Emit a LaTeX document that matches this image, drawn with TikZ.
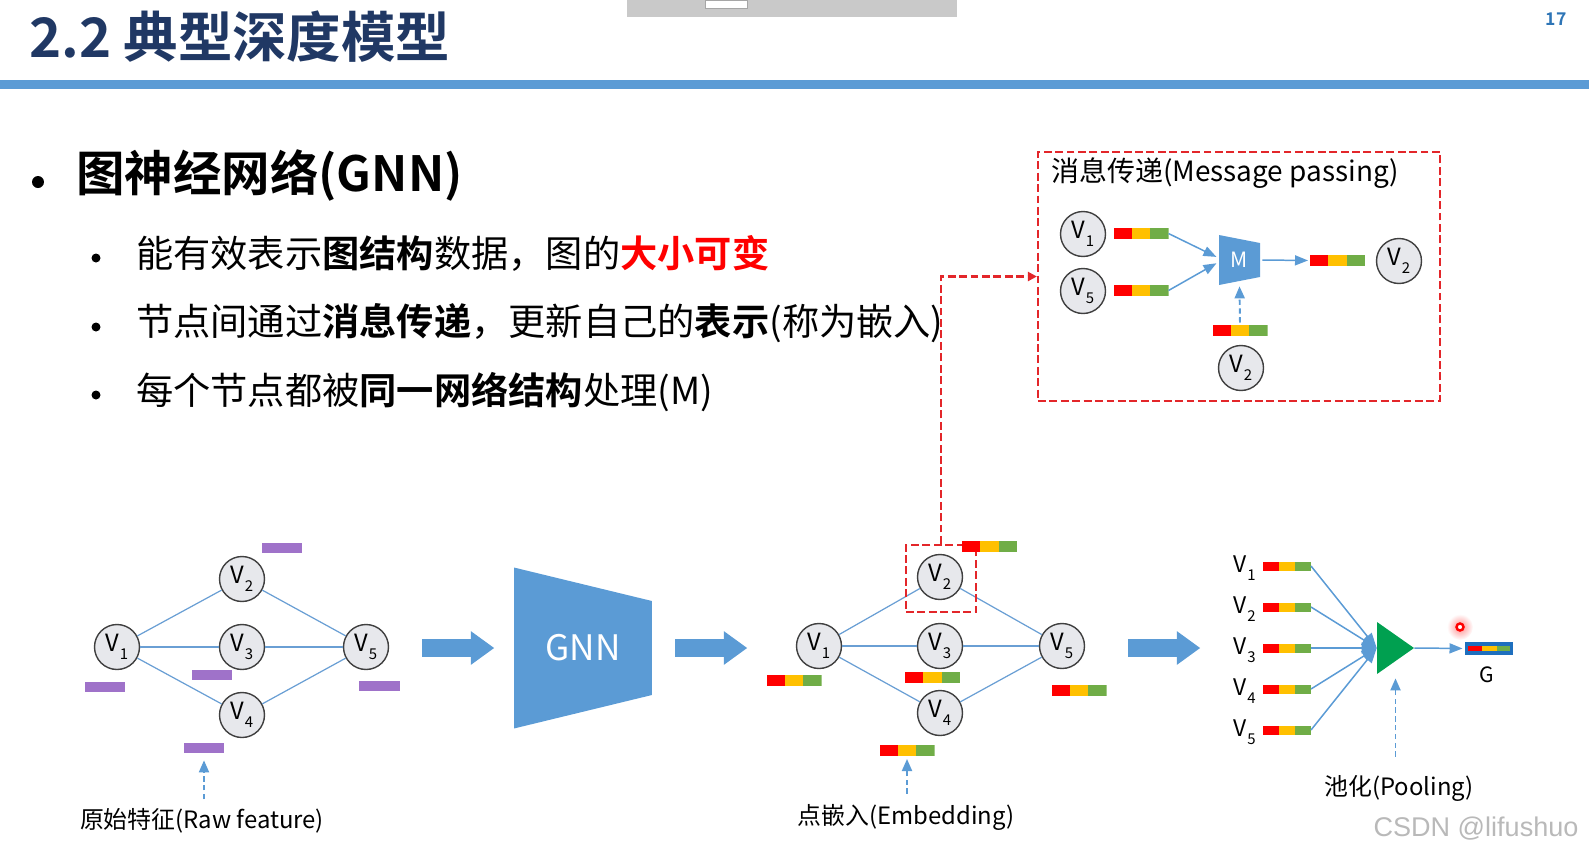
\documentclass[tikz,border=0pt]{standalone}
\usepackage{fontspec}
\setmainfont{Noto Sans CJK SC}[BoldFont=* Bold]
\newfontfamily\wmfont{Liberation Sans}
\usetikzlibrary{arrows.meta,shapes.arrows,calc}

\definecolor{navy}{HTML}{203864}
\definecolor{pgblue}{HTML}{2E75B6}
\definecolor{headblue}{HTML}{5B9BD5}
\definecolor{blockblue}{HTML}{5B9BD5}
\definecolor{edgeblue}{HTML}{6A9FD4}
\definecolor{nodefill}{HTML}{E7E8EC}
\definecolor{nodeline}{HTML}{404040}
\definecolor{rawpurple}{HTML}{9F72C9}
\definecolor{embred}{HTML}{FF0000}
\definecolor{embyellow}{HTML}{FFC000}
\definecolor{embgreen}{HTML}{70AD47}
\definecolor{hired}{HTML}{E3262A}
\definecolor{poolgreen}{HTML}{00A050}
\definecolor{gframe}{HTML}{1E6FBE}

\newcommand{\sz}[1]{\fontsize{#1pt}{#1pt}\selectfont}
\newcommand{\vsub}[1]{V\kern0.3pt\raisebox{-0.6ex}{\sz{8.5}#1}}

\begin{document}
\begin{tikzpicture}[
    x=0.02cm, y=-0.02cm,
    vnode/.style={circle, draw=nodeline, fill=nodefill, line width=0.8pt, minimum size=0.9cm, inner sep=0pt, font=\sz{13.5}, text depth=0.9ex},
    gedge/.style={draw=edgeblue, line width=0.7pt},
    rawbar/.style={fill=rawpurple, minimum width=0.82cm, minimum height=0.2cm, inner sep=0pt},
    embbar/.style={minimum width=1.1cm, minimum height=0.22cm, inner sep=0pt, outer sep=0pt,
        path picture={
            \coordinate (bbl) at (path picture bounding box.south west);
            \coordinate (bbr) at (path picture bounding box.north east);
            \coordinate (bb1) at ($(bbl)!1/3!(bbr)$);
            \coordinate (bb2) at ($(bbl)!2/3!(bbr)$);
            \fill[embred] (bbl) rectangle (bb1 |- bbr);
            \fill[embyellow] (bb1 |- bbl) rectangle (bb2 |- bbr);
            \fill[embgreen] (bb2 |- bbl) rectangle (bbr);
        }},
    trap/.style={inner sep=0pt, text=white,
        path picture={
            \fill[blockblue] (path picture bounding box.south west) -- (path picture bounding box.north west)
                -- ([yshift=-#1]path picture bounding box.north east) -- ([yshift=#1]path picture bounding box.south east) -- cycle;
        }},
    tri/.style={inner sep=0pt,
        path picture={
            \fill[poolgreen] (path picture bounding box.south west) -- (path picture bounding box.north west)
                -- (path picture bounding box.east) -- cycle;
        }},
    blockarr/.style={single arrow, fill=blockblue, inner sep=0.17cm, minimum height=1.44cm,
        single arrow head extend=0.16cm, single arrow tip angle=72},
    reddash/.style={draw=hired, line width=1.3pt, dash pattern=on 4.5pt off 2pt},
    flow/.style={draw=blockblue, line width=0.85pt, -{Triangle[length=0.26cm, width=0.2cm]}},
    bluedash/.style={draw=blockblue, line width=1.1pt, dash pattern=on 3pt off 2pt, -{Triangle[length=0.24cm, width=0.2cm]}},
    lbl/.style={font=\sz{13.6}, inner sep=0pt},
    pointtext/.style={anchor=west, font=\sz{21.2}},
]
\useasboundingbox (0,0) rectangle (1589,856);

% header
\fill[gray!42] (627,0) rectangle (957,17);
\filldraw[fill=white, draw=gray!70] (705,0) rectangle (747,8);
\fill[headblue] (0,80) rectangle (1589,89);
\node[anchor=west, text=navy, font=\sz{31}\bfseries] (title) at (23,37) {2.2 典型深度模型};
\node[text=pgblue, font=\sz{10}\bfseries] (pgnum) at (1556,19) {17};

% bullets
\fill (38,182) circle[radius=0.12cm];
\node[anchor=west, font=\sz{27.6}\bfseries] (gnnhead) at (70,175) {图神经网络(GNN)};
\foreach \yy in {258,327,395}
    \fill (96,\yy) circle[radius=0.09cm];
\node[pointtext] (pt1) at (130,253) {能有效表示\textbf{图结构}数据，图的\textbf{\color{embred}大小可变}};
\node[pointtext] (pt2) at (130,323) {节点间通过\textbf{消息传递}，更新自己的\textbf{表示}(称为嵌入)};
\node[pointtext] (pt3) at (130,392) {每个节点都被\textbf{同一网络结构}处理(M)};

% raw graph
\node[vnode] (r1) at (117,647) {\vsub{1}};
\node[vnode] (r2) at (242,579) {\vsub{2}};
\node[vnode] (r3) at (242,647) {\vsub{3}};
\node[vnode] (r4) at (242,715) {\vsub{4}};
\node[vnode] (r5) at (366,647) {\vsub{5}};
\foreach \a/\b in {r1/r2, r1/r3, r1/r4, r2/r5, r3/r5, r4/r5}
    \draw[gedge] (\a) -- (\b);
\node[rawbar] (f1) at (105,687) {};
\node[rawbar] (f2) at (282,548) {};
\node[rawbar] (f3) at (212,675) {};
\node[rawbar] (f4) at (204,748) {};
\node[rawbar] (f5) at (379,686) {};
\node[lbl] (rawlbl) at (202,821) {原始特征(Raw feature)};
\draw[bluedash, shorten <=0.18cm, shorten >=0.14cm] (rawlbl.north -| f4) -- (f4.south);

% GNN
\node[blockarr] (arr1) at (452,648) {};
\node[trap=0.67cm, minimum width=2.76cm, minimum height=3.22cm, font=\sz{20}] (gnn) at (583,648) {GNN};
\node[blockarr] (arr2) at (705,648) {};

% embedded graph
\node[vnode] (e1) at (819,646) {\vsub{1}};
\node[vnode] (e2) at (940,577) {\vsub{2}};
\node[vnode] (e3) at (940,646) {\vsub{3}};
\node[vnode] (e4) at (940,713) {\vsub{4}};
\node[vnode] (e5) at (1062,646) {\vsub{5}};
\foreach \a/\b in {e1/e2, e1/e3, e1/e4, e2/e5, e3/e5, e4/e5}
    \draw[gedge] (\a) -- (\b);
\node[reddash, minimum width=1.4cm, minimum height=1.34cm] (hl) at (941,578.5) {};
\node[embbar] (eb1) at (794,680.5) {};
\node[embbar] (eb2) at (989.5,546.5) {};
\node[embbar] (eb3) at (932.5,677) {};
\node[embbar] (eb4) at (907,750.5) {};
\node[embbar] (eb5) at (1079,690.5) {};
\node[lbl] (emblbl) at (906,817) {点嵌入(Embedding)};
\draw[bluedash, shorten <=0.2cm, shorten >=0.06cm] (emblbl.north -| eb4) -- (eb4.south);

\node[blockarr] (arr3) at (1158,648) {};

% message passing
\node[reddash, minimum width=8.04cm, minimum height=4.98cm] (mpbox) at (1239,276.5) {};
\node[anchor=west, font=\sz{15.9}, inner sep=0pt] (mptitle) at (1051,173) {消息传递(Message passing)};
\node[vnode] (mv1) at (1083,234) {\vsub{1}};
\node[vnode] (mv5) at (1083,291) {\vsub{5}};
\node[vnode] (mvo) at (1399,261) {\vsub{2}};
\node[vnode] (mvb) at (1241,368) {\vsub{2}};
\node[embbar] (mb1) at (1141,233.5) {};
\node[embbar] (mb5) at (1141,290.5) {};
\node[embbar] (mbo) at (1337.5,260.5) {};
\node[embbar] (mbb) at (1240,330) {};
\node[trap=0.16cm, minimum width=0.82cm, minimum height=1.0cm, font=\sz{12}] (msg) at (1239.5,260) {M};
\draw[flow, shorten >=0.05cm] (mb1.east) -- ([yshift=0.04cm]msg.west);
\draw[flow, shorten >=0.05cm] (mb5.east) -- ([yshift=-0.04cm]msg.west);
\draw[flow, shorten <=0.04cm, shorten >=0.04cm] (msg.east) -- (mbo.west);
\draw[bluedash, shorten <=0.04cm, shorten >=0.02cm] (mbb.north) -- (msg.south);
\draw[reddash, -{Triangle[length=0.18cm, width=0.18cm]}] (hl.north) |- (mpbox.west);

% pooling
\foreach \i/\yy in {1/566, 2/607, 3/648, 4/689, 5/730} {
    \node[embbar, minimum width=0.96cm, minimum height=0.18cm] (pb\i) at (1287,\yy) {};
    \node[anchor=east, font=\sz{13}, inner sep=0pt] (p\i) at (1256,\yy+2) {\vsub{\i}};
}
\node[tri, minimum width=0.74cm, minimum height=1.04cm] (pool) at (1395.5,648) {};
\foreach \i in {1,...,5}
    \draw[draw=blockblue, line width=0.85pt, -{Triangle[length=0.3cm, width=0.22cm]}] (pb\i.east) -- (pool.west);
\node[embbar, draw=gframe, line width=1.8pt, minimum width=0.9cm, minimum height=0.18cm] (gbar) at (1489,648.5) {};
\draw[flow, shorten >=0.08cm] (pool.east) -- (gbar.west);
\node[font=\sz{12}] (glbl) at (1487,675) {G};
\node[lbl] (poollbl) at (1399,788) {池化(Pooling)};
\draw[bluedash, shorten <=0.36cm, shorten >=0.08cm] (poollbl.north -| pool) -- (pool.south);

% pointer
\shade[inner color=red!45, outer color=white] (1460,627) circle[radius=0.26cm];
\draw[red, line width=1.4pt, fill=white] (1460,627) circle[radius=0.07cm];

% watermark
\node[font=\wmfont\sz{15.4}, text=gray!55] (wm) at (1476,829) {CSDN @lifushuo};
\end{tikzpicture}
\end{document}
